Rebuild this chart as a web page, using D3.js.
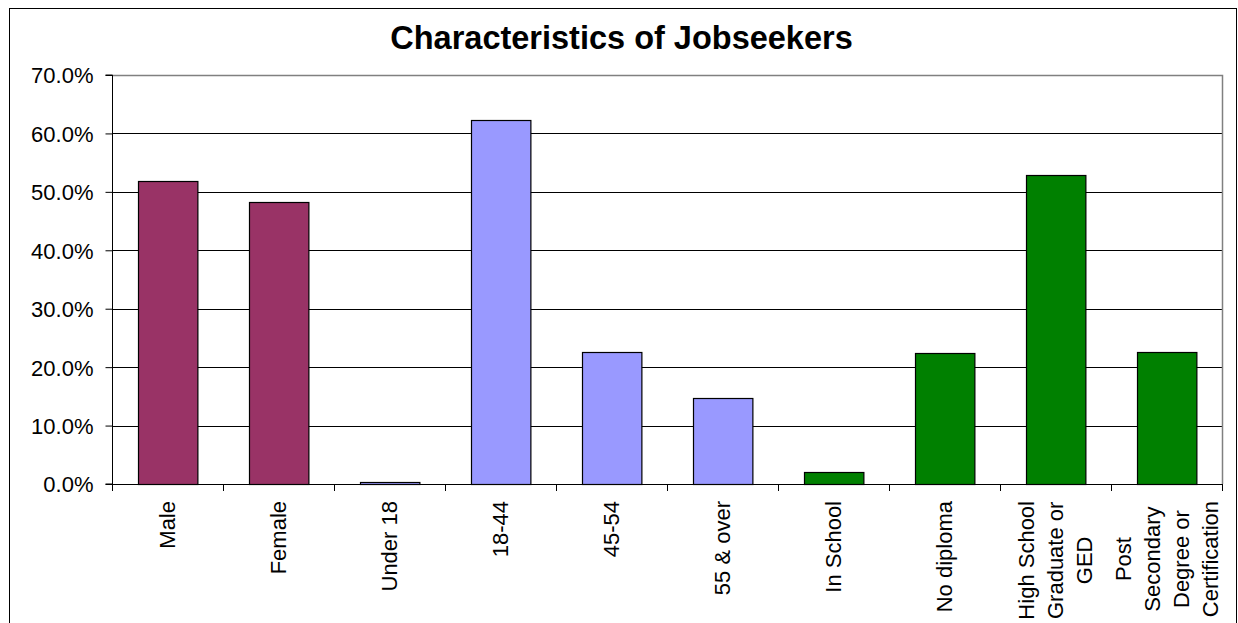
<!DOCTYPE html>
<html>
<head>
<meta charset="utf-8">
<script src="https://cdn.jsdelivr.net/npm/d3@7"></script>
<style>
  html, body { margin: 0; padding: 0; background: #fff; }
  svg { display: block; font-family: "Liberation Sans", Arial, sans-serif; }
</style>
</head>
<body>
<svg id="chart" width="1238" height="623"></svg>
<script>
// ---- data ----
const categories = ["Male", "Female", "Under 18", "18-44", "45-54", "55 & over",
  "In School", "No diploma", "High School Graduate or GED", "Post Secondary Degree or Certification"];
const labelLines = [["Male"], ["Female"], ["Under 18"], ["18-44"], ["45-54"], ["55 & over"],
  ["In School"], ["No diploma"], ["High School", "Graduate or", "GED"],
  ["Post", "Secondary", "Degree or", "Certification"]];
const values = [51.8, 48.2, 0.4, 62.3, 22.6, 14.7, 2.0, 22.4, 52.8, 22.6];
const groups = ["gender", "gender", "age", "age", "age", "age", "edu", "edu", "edu", "edu"];
const groupColors = { gender: "#993366", age: "#9999FF", edu: "#008000" };
const yTicks = [0, 10, 20, 30, 40, 50, 60, 70];
const title = "Characteristics of Jobseekers";

// ---- layout ----
const svg = d3.select("#chart");
const W = 1238, H = 623;
const plot = { left: 112, right: 1222, top: 75, bottom: 484 };

svg.append("rect").attr("x", 0).attr("y", 0).attr("width", W).attr("height", H).attr("fill", "#fff");
// outer chart border
svg.append("rect").attr("x", 9.5).attr("y", 8.5).attr("width", 1227).attr("height", 700)
  .attr("fill", "none").attr("stroke", "#000").attr("stroke-width", 1);

const x = d3.scaleBand().domain(categories).range([plot.left, plot.right])
  .paddingInner(0.465).paddingOuter(0.2325);
const y = d3.scaleLinear().domain([0, 70]).range([plot.bottom, plot.top]);

// title
svg.append("text").attr("x", 621.5).attr("y", 49.3).attr("text-anchor", "middle")
  .attr("font-size", 32.5).attr("font-weight", "bold").attr("fill", "#000").text(title);

// gridlines
svg.append("g").selectAll("line").data(yTicks.filter(t => t > 0 && t < 70)).join("line")
  .attr("x1", plot.left).attr("x2", plot.right)
  .attr("y1", d => Math.round(y(d)) + 0.5).attr("y2", d => Math.round(y(d)) + 0.5)
  .attr("stroke", "#000").attr("stroke-width", 1);

// plot area border (top & right)
svg.append("path")
  .attr("d", `M${plot.left},${y(70) + 0.5}H${plot.right + 0.5}V${plot.bottom}`)
  .attr("fill", "none").attr("stroke", "#808080").attr("stroke-width", 1.5);

// bars
svg.append("g").selectAll("rect").data(values).join("rect")
  .attr("x", (d, i) => Math.round(x(categories[i])) + 0.5)
  .attr("y", d => Math.round(y(d)) + 0.5)
  .attr("width", x.bandwidth())
  .attr("height", d => Math.max(0, Math.round(y(0)) - Math.round(y(d))))
  .attr("fill", (d, i) => groupColors[groups[i]])
  .attr("stroke", "#000").attr("stroke-width", 1.2);

// y axis
const yAxis = d3.axisLeft(y).tickValues(yTicks).tickSize(7).tickPadding(12)
  .tickFormat(d => d3.format(".1f")(d) + "%");
const gy = svg.append("g").attr("transform", `translate(${plot.left + 0.5},0)`).call(yAxis);
gy.select(".domain").attr("stroke", "#000").attr("d", `M-7,${y(0)}H0V${y(70)}H-7`);
gy.selectAll(".tick line").attr("stroke", "#000");
gy.selectAll(".tick text").attr("font-size", 22).attr("fill", "#000")
  .attr("font-family", "'Liberation Sans', Arial, sans-serif").attr("dy", "0.36em");

// x axis line and ticks at band boundaries
const step = x.step();
const xb = svg.append("g");
xb.append("line").attr("x1", plot.left).attr("x2", plot.right + 0.5)
  .attr("y1", Math.round(y(0)) + 0.5).attr("y2", Math.round(y(0)) + 0.5)
  .attr("stroke", "#000");
xb.selectAll("line.tk").data(d3.range(categories.length + 1)).join("line").attr("class", "tk")
  .attr("x1", i => Math.round(plot.left + i * step) + 0.5)
  .attr("x2", i => Math.round(plot.left + i * step) + 0.5)
  .attr("y1", y(0)).attr("y2", y(0) + 7).attr("stroke", "#000");

// x labels (rotated, multi-line, block top-aligned, lines centered)
const lineGap = 29;
const capHalf = 7.9;
const labelTop = 501;
categories.forEach((c, i) => {
  const lines = labelLines[i];
  const cx = x(c) + x.bandwidth() / 2;
  const g = svg.append("g");
  const texts = g.selectAll("text").data(lines).join("text")
    .attr("font-size", 22).attr("fill", "#000").attr("text-anchor", "middle")
    .text(d => d);
  let maxLen = 0;
  texts.each(function () { maxLen = Math.max(maxLen, this.getComputedTextLength()); });
  const cy = labelTop + maxLen / 2;
  const n = lines.length;
  texts.attr("transform", (d, j) => {
    const bx = cx + capHalf + (j - (n - 1) / 2) * lineGap;
    return `translate(${bx},${cy}) rotate(-90)`;
  });
});
</script>
</body>
</html>
